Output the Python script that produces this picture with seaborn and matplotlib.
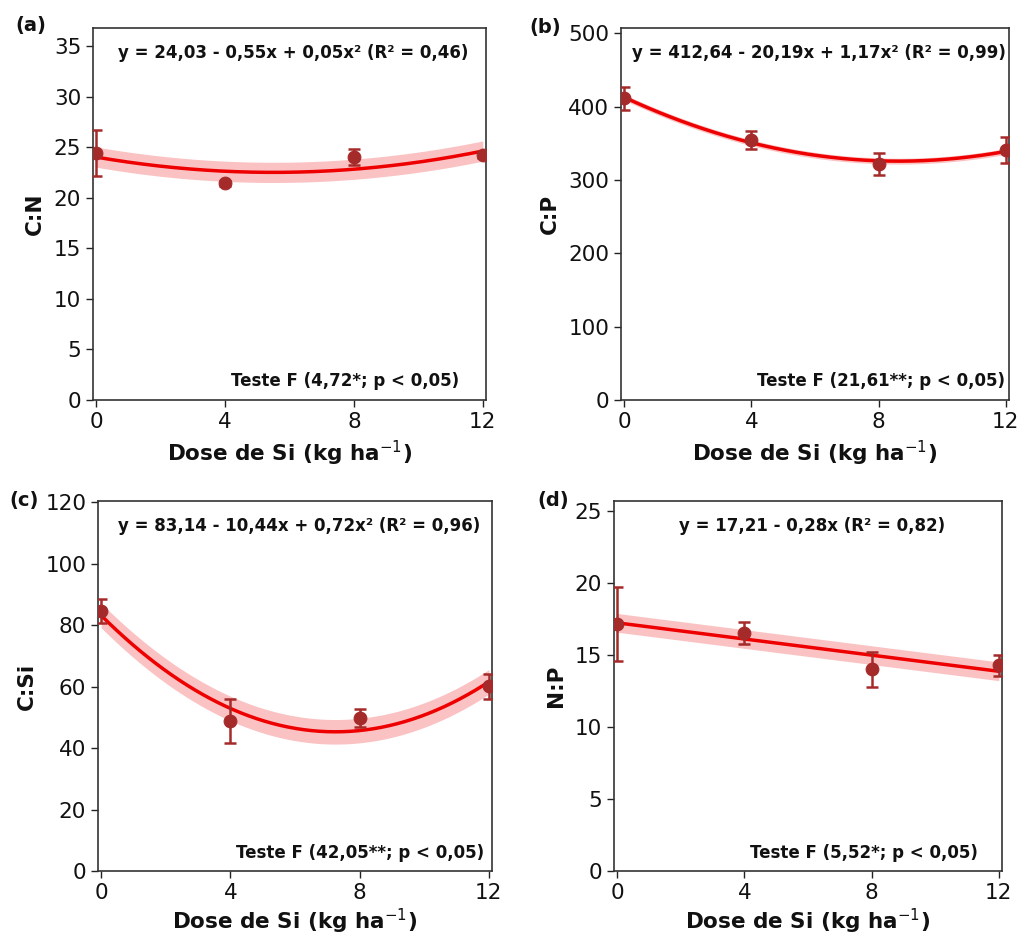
import numpy as np
import pandas as pd
import matplotlib
matplotlib.use("Agg")
import matplotlib.pyplot as plt
import seaborn as sns

# ---------------- data ----------------
doses = [0, 4, 8, 12]

cn_mean = [24.45, 21.45, 24.07, 24.26]
cn_err = [2.3, 0.25, 0.8, 0.3]
cn_coef = [24.03, -0.55, 0.05]
cn_band = 1.0

cp_mean = [411.4, 354.5, 321.4, 341.0]
cp_err = [15.5, 12.3, 15.0, 18.0]
cp_coef = [412.64, -20.19, 1.17]
cp_band = 4.0

csi_mean = [84.5, 48.7, 49.8, 60.1]
csi_err = [3.9, 7.2, 2.9, 4.1]
csi_coef = [83.14, -10.44, 0.72]
csi_band = 4.0

np_mean = [17.13, 16.51, 13.98, 14.26]
np_err = [2.55, 0.75, 1.23, 0.72]
np_coef = [17.21, -0.28, 0.0]
np_band = 0.65

ylabels = ["C:N", "C:P", "C:Si", "N:P"]
panel_tags = ["(a)", "(b)", "(c)", "(d)"]
equations = [
    "y = 24,03 - 0,55x + 0,05x² (R² = 0,46)",
    "y = 412,64 - 20,19x + 1,17x² (R² = 0,99)",
    "y = 83,14 - 10,44x + 0,72x² (R² = 0,96)",
    "y = 17,21 - 0,28x (R² = 0,82)",
]
ftests = [
    "Teste F (4,72*; p < 0,05)",
    "Teste F (21,61**; p < 0,05)",
    "Teste F (42,05**; p < 0,05)",
    "Teste F (5,52*; p < 0,05)",
]
yticks = [
    [0, 5, 10, 15, 20, 25, 30, 35],
    [0, 100, 200, 300, 400, 500],
    [0, 20, 40, 60, 80, 100, 120],
    [0, 5, 10, 15, 20, 25],
]
ytops = [36.8, 507, 120.4, 25.66]
xticks = [0, 4, 8, 12]

means = [cn_mean, cp_mean, csi_mean, np_mean]
errs = [cn_err, cp_err, csi_err, np_err]
coefs = [cn_coef, cp_coef, csi_coef, np_coef]
bands = [cn_band, cp_band, csi_band, np_band]

# ---------------- layout ----------------
W, H = 1029, 938
axes_px = [  # left, right, top, bottom in pixels
    (93, 486, 28, 400),
    (621, 1009, 28, 400),
    (98, 492, 501, 871),
    (614, 1002, 501, 871),
]
tag_px = [(15, 25), (529, 27), (9, 500), (537, 500)]
xlabel_pads = [5, 5, 3, 3]

sns.set_style("ticks")
plt.rcParams["font.family"] = ["DejaVu Sans"]

fig = plt.figure(figsize=(W / 100, H / 100), dpi=100)

point_color = "#A52A2A"
line_color = "#EE0000"

for i in range(4):
    l, r, t, b = axes_px[i]
    ax = fig.add_axes([l / W, 1 - b / H, (r - l) / W, (b - t) / H])
    c0, c1, c2 = coefs[i]
    xs = np.linspace(0, 12, 200)
    fit = c0 + c1 * xs + c2 * xs ** 2
    df = pd.DataFrame({"x": xs, "y": fit})
    ax.fill_between(xs, fit - bands[i], fit + bands[i], color="#EE0000",
                    alpha=0.24, linewidth=0, zorder=1)
    sns.lineplot(data=df, x="x", y="y", ax=ax, color=line_color, lw=2.5,
                 zorder=2)
    pts = pd.DataFrame({"x": doses, "y": means[i]})
    ax.errorbar(doses, means[i], yerr=errs[i], fmt="none", ecolor=point_color,
                elinewidth=1.8, capsize=4.5, capthick=1.8, zorder=3)
    sns.scatterplot(data=pts, x="x", y="y", ax=ax, color=point_color, s=85,
                    edgecolor=point_color, zorder=4)
    ax.set_xlim(-0.1, 12.1)
    ax.set_ylim(0, ytops[i])
    ax.set_xticks(xticks)
    ax.set_yticks(yticks[i])
    ax.tick_params(labelsize=15.5, length=5, width=1, colors="#222222",
                   labelcolor="#111111")
    for sp in ax.spines.values():
        sp.set_visible(True)
        sp.set_color("#333333")
        sp.set_linewidth(1.2)
    ax.set_xlabel("Dose de Si (kg ha$^{-1}$)", fontsize=15.5,
                  fontweight="bold", labelpad=xlabel_pads[i], color="#111111")
    ax.set_ylabel(ylabels[i], fontsize=15.5, fontweight="bold", labelpad=6,
                  color="#111111")
    ax.text(0.51, 0.933, equations[i], transform=ax.transAxes, ha="center",
            va="center", fontsize=12, fontweight="bold", color="#111111")
    ax.text(0.35, 0.05, ftests[i], transform=ax.transAxes, ha="left",
            va="center", fontsize=12, fontweight="bold", color="#111111")
    tx, ty = tag_px[i]
    fig.text(tx / W, 1 - ty / H, panel_tags[i], ha="left", va="center",
             fontsize=14, fontweight="bold", color="#111111")

fig.savefig("out.png", dpi=100)
